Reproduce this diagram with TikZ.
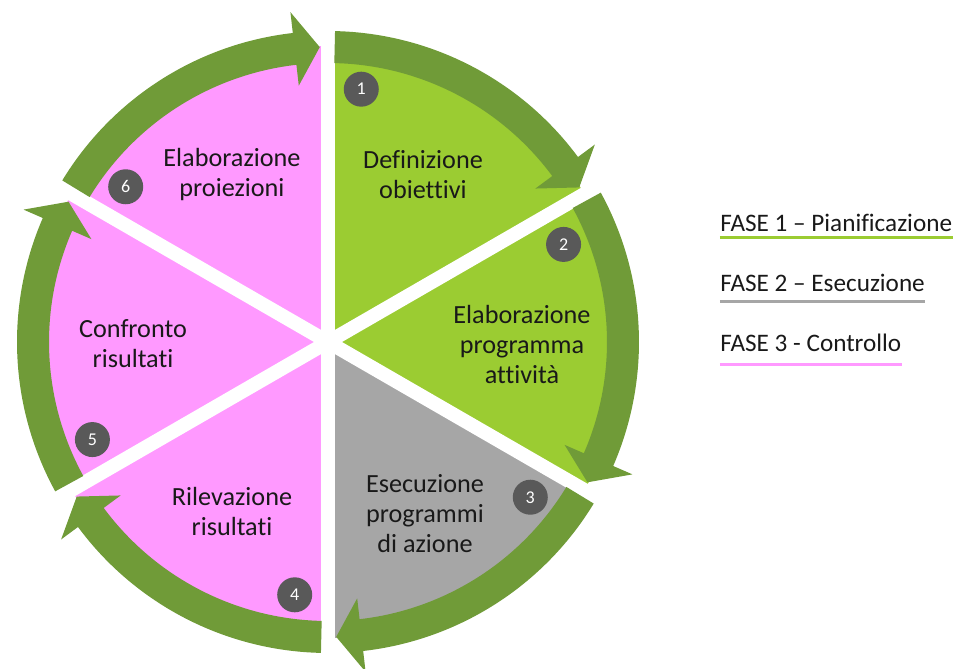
\documentclass[tikz,border=0pt]{standalone}
\usepackage{fontspec}
\setmainfont{Carlito}[Ligatures=NoCommon]
\definecolor{leafgreen}{RGB}{155,204,50}
\definecolor{ringgreen}{RGB}{112,155,56}
\definecolor{petalpink}{RGB}{255,153,255}
\definecolor{stonegray}{RGB}{166,166,166}
\definecolor{dotgray}{RGB}{89,89,89}
\definecolor{txtdark}{RGB}{25,25,25}
\newcommand{\wedgefill}[2]{\fill[#2] (0,0) -- (#1:296) arc[start angle=#1, end angle=#1-60, radius=296] -- cycle;}
\newcommand{\wedgegap}[1]{\draw[white, line width=7pt] (0,0) -- (#1:302);}
\newcommand{\ringarrow}[1]{\fill[ringgreen] (#1-1.3:311) arc[start angle=#1-1.3, end angle=#1-53.5, radius=311]
  -- (#1-53.5:332) -- (#1-58.4:295) -- (#1-53.5:258) -- (#1-53.5:279)
  arc[start angle=#1-53.5, end angle=#1-1.3, radius=279] -- cycle;}
\begin{document}
\begin{tikzpicture}[x=0.5pt, y=0.5pt,
  phasetxt/.style={align=center, text=txtdark, font=\fontsize{13.1}{15}\selectfont},
  numdot/.style={circle, fill=dotgray, text=white, minimum size=17.5pt, inner sep=0pt, font=\fontsize{9}{9}\selectfont},
  legendtxt/.style={anchor=base west, inner sep=0pt, text=txtdark, font=\fontsize{12.6}{14}\selectfont}]
  \useasboundingbox (-328,-327) rectangle (627,342);
  \wedgefill{90}{leafgreen}
  \wedgefill{30}{leafgreen}
  \wedgefill{-30}{stonegray}
  \wedgefill{-90}{petalpink}
  \wedgefill{-150}{petalpink}
  \wedgefill{150}{petalpink}
  \wedgegap{90}
  \wedgegap{30}
  \wedgegap{-30}
  \wedgegap{-90}
  \wedgegap{-150}
  \wedgegap{150}
  \ringarrow{90}
  \ringarrow{30}
  \ringarrow{-30}
  \ringarrow{-90}
  \ringarrow{-150}
  \ringarrow{150}
  \node[numdot] (n1) at (82.5:255) {1};
  \node[numdot] (n2) at (22.5:255) {2};
  \node[numdot] (n3) at (-37.5:255) {3};
  \node[numdot] (n4) at (-97.5:255) {4};
  \node[numdot] (n5) at (-157.5:255) {5};
  \node[numdot] (n6) at (142.5:255) {6};
  \node[phasetxt] (obiettivi) at (95,167) {Definizione\\obiettivi};
  \node[phasetxt] (programma) at (194,-3) {Elaborazione\\programma\\attività};
  \node[phasetxt] (azione) at (97,-172) {Esecuzione\\programmi\\di azione};
  \node[phasetxt] (rilevazione) at (-96,-170) {Rilevazione\\risultati};
  \node[phasetxt] (confronto) at (-195,-2) {Confronto\\risultati};
  \node[phasetxt] (proiezioni) at (-96,167) {Elaborazione\\proiezioni};
  \node[legendtxt] (fase1) at (392,110) {FASE 1 – Pianificazione};
  \node[legendtxt] (fase2) at (392,50) {FASE 2 – Esecuzione};
  \node[legendtxt] (fase3) at (392,-10) {FASE 3 - Controllo};
  \draw[leafgreen, line width=1.5pt] ([yshift=-3pt]fase1.base west) -- ([yshift=-3pt]fase1.base east);
  \draw[stonegray, line width=1.5pt] ([yshift=-5pt]fase2.base west) -- ([yshift=-5pt]fase2.base east);
  \draw[petalpink, line width=1.5pt] ([yshift=-6.5pt]fase3.base west) -- ([yshift=-6.5pt]fase3.base east);
\end{tikzpicture}
\end{document}
